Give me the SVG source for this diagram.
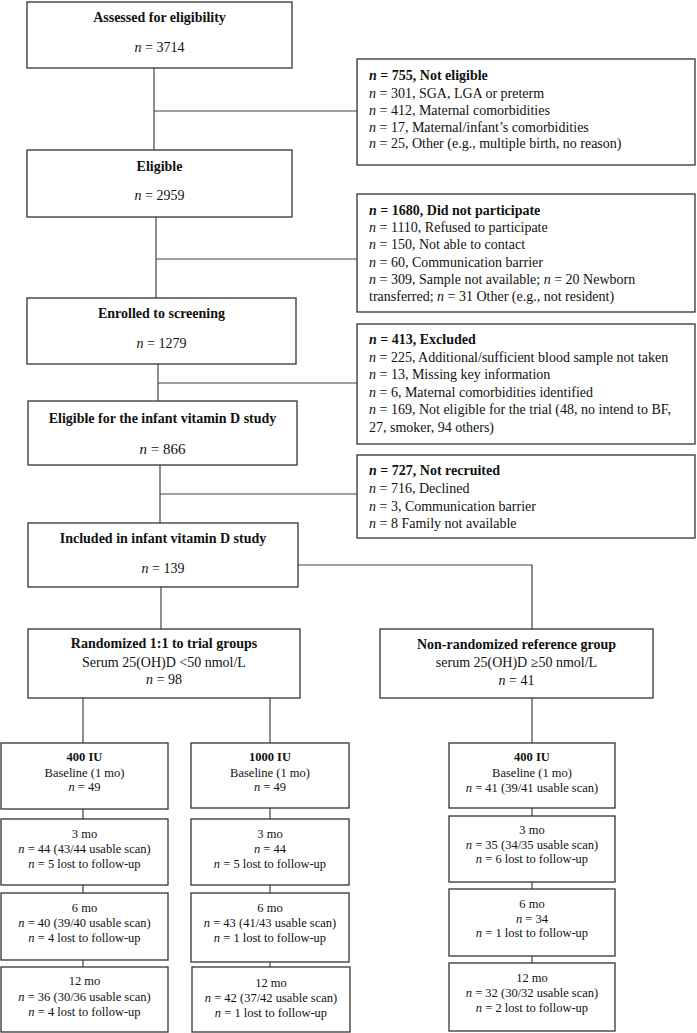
<svg xmlns="http://www.w3.org/2000/svg" width="697" height="1033" viewBox="0 0 697 1033">
<style>
.box{fill:#fff;stroke:#333;stroke-width:1.3}
.ln{stroke:#444;stroke-width:1.2;fill:none}
text{font-family:"Liberation Serif","Times New Roman",serif;font-size:14px;fill:#111}
.b{font-weight:bold}
.i{font-style:italic}
.c{text-anchor:middle}
.s{font-size:12.5px}
.big{font-size:15px}
</style>
<rect width="697" height="1033" fill="#fff"/>
<g id="connectors">
<path class="ln" d="M154 68V150M154 111H357"/>
<path class="ln" d="M156 217V298M156 259H357"/>
<path class="ln" d="M158 364V401M158 383H357"/>
<path class="ln" d="M160 465V523M160 494H357"/>
<path class="ln" d="M161 587V629"/>
<path class="ln" d="M298 565H532V629"/>
<path class="ln" d="M83 698V743M270 698V743M532 698V743"/>
<path class="ln" d="M83 809V819M83 885V893M83 960V967"/>
<path class="ln" d="M270 808V819M270 885V893M270 962V967"/>
<path class="ln" d="M532 808V816M532 882V889M532 956V963"/>
</g>
<g id="assessed">
<rect class="box" x="27" y="2" width="265" height="66"/>
<text class="c b" x="159.5" y="22">Assessed for eligibility</text>
<text class="c" x="159.5" y="52"><tspan class="i">n</tspan> = 3714</text>
</g>
<g id="not-eligible">
<rect class="box" x="357" y="59" width="338" height="106"/>
<text class="b" x="369" y="80"><tspan class="i">n</tspan> = 755, Not eligible</text>
<text x="369" y="98"><tspan class="i">n</tspan> = 301, SGA, LGA or preterm</text>
<text x="369" y="115"><tspan class="i">n</tspan> = 412, Maternal comorbidities</text>
<text x="369" y="132"><tspan class="i">n</tspan> = 17, Maternal/infant’s comorbidities</text>
<text x="369" y="148"><tspan class="i">n</tspan> = 25, Other (e.g., multiple birth, no reason)</text>
</g>
<g id="eligible">
<rect class="box" x="27" y="150" width="265" height="67"/>
<text class="c b" x="159.5" y="171">Eligible</text>
<text class="c" x="159.5" y="200"><tspan class="i">n</tspan> = 2959</text>
</g>
<g id="did-not-participate">
<rect class="box" x="357" y="194" width="338" height="118"/>
<text class="b" x="369" y="215"><tspan class="i">n</tspan> = 1680, Did not participate</text>
<text x="369" y="232"><tspan class="i">n</tspan> = 1110, Refused to participate</text>
<text x="369" y="249"><tspan class="i">n</tspan> = 150, Not able to contact</text>
<text x="369" y="267"><tspan class="i">n</tspan> = 60, Communication barrier</text>
<text x="369" y="284"><tspan class="i">n</tspan> = 309, Sample not available; <tspan class="i">n</tspan> = 20 Newborn</text>
<text x="369" y="301">transferred; <tspan class="i">n</tspan> = 31 Other (e.g., not resident)</text>
</g>
<g id="enrolled">
<rect class="box" x="27" y="298" width="269" height="66"/>
<text class="c b" x="161.5" y="318">Enrolled to screening</text>
<text class="c" x="161.5" y="348"><tspan class="i">n</tspan> = 1279</text>
</g>
<g id="excluded">
<rect class="box" x="357" y="324" width="338" height="120"/>
<text class="b" x="369" y="344"><tspan class="i">n</tspan> = 413, Excluded</text>
<text x="369" y="362"><tspan class="i">n</tspan> = 225, Additional/sufficient blood sample not taken</text>
<text x="369" y="379"><tspan class="i">n</tspan> = 13, Missing key information</text>
<text x="369" y="397"><tspan class="i">n</tspan> = 6, Maternal comorbidities identified</text>
<text x="369" y="414"><tspan class="i">n</tspan> = 169, Not eligible for the trial (48, no intend to BF,</text>
<text x="369" y="432">27, smoker, 94 others)</text>
</g>
<g id="eligible-vitd">
<rect class="box" x="28" y="401" width="269" height="64"/>
<text class="c b" x="162.5" y="423">Eligible for the infant vitamin D study</text>
<text class="c big" x="162.5" y="454"><tspan class="i">n</tspan> = 866</text>
</g>
<g id="not-recruited">
<rect class="box" x="357" y="455" width="338" height="83"/>
<text class="b" x="369" y="475"><tspan class="i">n</tspan> = 727, Not recruited</text>
<text x="369" y="493"><tspan class="i">n</tspan> = 716, Declined</text>
<text x="369" y="511"><tspan class="i">n</tspan> = 3, Communication barrier</text>
<text x="369" y="528"><tspan class="i">n</tspan> = 8 Family not available</text>
</g>
<g id="included">
<rect class="box" x="28" y="523" width="270" height="64"/>
<text class="c b" x="163" y="543">Included in infant vitamin D study</text>
<text class="c" x="163" y="573"><tspan class="i">n</tspan> = 139</text>
</g>
<g id="randomized">
<rect class="box" x="28" y="629" width="272" height="69"/>
<text class="c b" x="164" y="648">Randomized 1:1 to trial groups</text>
<text class="c" x="164" y="667">Serum 25(OH)D &lt;50 nmol/L</text>
<text class="c" x="164" y="684"><tspan class="i">n</tspan> = 98</text>
</g>
<g id="non-randomized">
<rect class="box" x="380" y="629" width="273" height="69"/>
<text class="c b" x="516.5" y="649">Non-randomized reference group</text>
<text class="c" x="516.5" y="667">serum 25(OH)D ≥50 nmol/L</text>
<text class="c" x="516.5" y="685"><tspan class="i">n</tspan> = 41</text>
</g>
<g id="a-baseline">
<rect class="box" x="1" y="743" width="167" height="66"/>
<text class="c s b" x="84.5" y="760.5">400 IU</text>
<text class="c s" x="84.5" y="776.5">Baseline (1 mo)</text>
<text class="c s" x="84.5" y="790.5"><tspan class="i">n</tspan> = 49</text>
</g>
<g id="a-3mo">
<rect class="box" x="1" y="819" width="167" height="66"/>
<text class="c s" x="84.5" y="837.5">3 mo</text>
<text class="c s" x="84.5" y="852.5"><tspan class="i">n</tspan> = 44 (43/44 usable scan)</text>
<text class="c s" x="84.5" y="867.5"><tspan class="i">n</tspan> = 5 lost to follow-up</text>
</g>
<g id="a-6mo">
<rect class="box" x="1" y="893" width="167" height="67"/>
<text class="c s" x="84.5" y="911.5">6 mo</text>
<text class="c s" x="84.5" y="926.5"><tspan class="i">n</tspan> = 40 (39/40 usable scan)</text>
<text class="c s" x="84.5" y="941.5"><tspan class="i">n</tspan> = 4 lost to follow-up</text>
</g>
<g id="a-12mo">
<rect class="box" x="1" y="967" width="167" height="65"/>
<text class="c s" x="84.5" y="984.5">12 mo</text>
<text class="c s" x="84.5" y="1000.5"><tspan class="i">n</tspan> = 36 (30/36 usable scan)</text>
<text class="c s" x="84.5" y="1015.5"><tspan class="i">n</tspan> = 4 lost to follow-up</text>
</g>
<g id="b-baseline">
<rect class="box" x="191" y="743" width="158" height="65"/>
<text class="c s b" x="270" y="760.5">1000 IU</text>
<text class="c s" x="270" y="776.5">Baseline (1 mo)</text>
<text class="c s" x="270" y="790.5"><tspan class="i">n</tspan> = 49</text>
</g>
<g id="b-3mo">
<rect class="box" x="191" y="819" width="158" height="66"/>
<text class="c s" x="270" y="837.5">3 mo</text>
<text class="c s" x="270" y="852.5"><tspan class="i">n</tspan> = 44</text>
<text class="c s" x="270" y="867.5"><tspan class="i">n</tspan> = 5 lost to follow-up</text>
</g>
<g id="b-6mo">
<rect class="box" x="191" y="893" width="158" height="69"/>
<text class="c s" x="270" y="911.5">6 mo</text>
<text class="c s" x="270" y="926.5"><tspan class="i">n</tspan> = 43 (41/43 usable scan)</text>
<text class="c s" x="270" y="941.5"><tspan class="i">n</tspan> = 1 lost to follow-up</text>
</g>
<g id="b-12mo">
<rect class="box" x="192" y="967" width="158" height="65"/>
<text class="c s" x="271" y="986.5">12 mo</text>
<text class="c s" x="271" y="1001.5"><tspan class="i">n</tspan> = 42 (37/42 usable scan)</text>
<text class="c s" x="271" y="1016.5"><tspan class="i">n</tspan> = 1 lost to follow-up</text>
</g>
<g id="c-baseline">
<rect class="box" x="449" y="743" width="166" height="65"/>
<text class="c s b" x="532" y="760.5">400 IU</text>
<text class="c s" x="532" y="776.5">Baseline (1 mo)</text>
<text class="c s" x="532" y="791.5"><tspan class="i">n</tspan> = 41 (39/41 usable scan)</text>
</g>
<g id="c-3mo">
<rect class="box" x="449" y="816" width="166" height="66"/>
<text class="c s" x="532" y="833.5">3 mo</text>
<text class="c s" x="532" y="848.5"><tspan class="i">n</tspan> = 35 (34/35 usable scan)</text>
<text class="c s" x="532" y="862.5"><tspan class="i">n</tspan> = 6 lost to follow-up</text>
</g>
<g id="c-6mo">
<rect class="box" x="449" y="889" width="166" height="67"/>
<text class="c s" x="532" y="907.5">6 mo</text>
<text class="c s" x="532" y="922.5"><tspan class="i">n</tspan> = 34</text>
<text class="c s" x="532" y="936.5"><tspan class="i">n</tspan> = 1 lost to follow-up</text>
</g>
<g id="c-12mo">
<rect class="box" x="449" y="963" width="166" height="68"/>
<text class="c s" x="532" y="981.5">12 mo</text>
<text class="c s" x="532" y="996.5"><tspan class="i">n</tspan> = 32 (30/32 usable scan)</text>
<text class="c s" x="532" y="1011.5"><tspan class="i">n</tspan> = 2 lost to follow-up</text>
</g>
</svg>
